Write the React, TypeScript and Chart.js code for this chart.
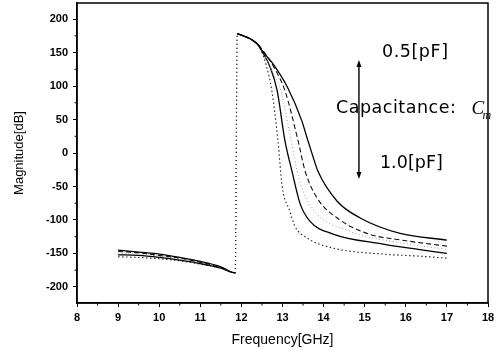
import React, { useEffect, useRef } from "react";
import { Chart, registerables } from "chart.js";

Chart.register(...registerables);

// Shared low-frequency branch and resonance peak
const leftFreq = [9, 9.5, 10, 10.5, 11, 11.5, 11.85];
const peakFreq = [11.9, 12.0, 12.2, 12.4];
const peakMag = [178, 176, 171, 162];

// Curve A (dotted, 1.0 pF)
const leftMagA = [-155, -156, -158, -161, -166, -172, -179];
const freqA = [12.5, 12.6, 12.74, 12.89, 12.99, 13.18, 13.3, 13.6, 14.23, 15.45, 16.3, 17];
const magA = [150, 132, 93, 18, -49, -87, -109, -127, -142, -151, -154, -157];

// Curve B (solid)
const leftMagB = [-152, -153, -156, -160, -165, -172, -179];
const freqB = [12.5, 12.7, 12.87, 13.06, 13.23, 13.43, 13.67, 14.23, 15.45, 16.3, 17];
const magB = [152, 128, 93, 18, -27, -76, -102, -121, -136, -144, -150];

// Curve C (faint dotted)
const leftMagC = [-150, -151, -154, -158, -164, -171, -179];
const freqC = [12.5, 12.75, 12.96, 13.2, 13.4, 13.72, 14.64, 15.86, 17];
const magC = [153, 122, 93, 22, -38, -82, -117, -134, -144];

// Curve D (dashed)
const leftMagD = [-147, -149, -153, -157, -163, -171, -179];
const freqD = [12.5, 12.8, 13.06, 13.38, 13.55, 13.84, 14.33, 15.05, 16, 17];
const magD = [155, 127, 93, 18, -27, -67, -97, -120, -131, -139];

// Curve E (solid, 0.5 pF)
const leftMagE = [-145, -148, -151, -156, -162, -170, -179];
const freqE = [12.5, 12.77, 13.13, 13.47, 13.6, 13.74, 13.86, 14.33, 14.89, 15.86, 17];
const magE = [153, 133, 97, 48, 22, -5, -27, -72, -97, -120, -130];

const xTicks = [8, 9, 10, 11, 12, 13, 14, 15, 16, 17, 18];
const yTicks = [-200, -150, -100, -50, 0, 50, 100, 150, 200];

const build = (leftMag: number[], f: number[], m: number[]) => [
  ...leftFreq.map((x, i) => ({ x, y: leftMag[i] })),
  ...peakFreq.map((x, i) => ({ x, y: peakMag[i] })),
  ...f.map((x, i) => ({ x, y: m[i] })),
];

const isJump = (ctx: any) => ctx.p0.parsed.y < 0 && ctx.p1.parsed.y > 100;

const mkSet = (data: any[], color: string, dash: number[], width: number) => ({
  data,
  borderColor: color,
  borderDash: dash,
  borderWidth: width,
  pointRadius: 0,
  fill: false,
  showLine: true,
  cubicInterpolationMode: "monotone" as const,
  segment: {
    borderColor: (ctx: any) => (isJump(ctx) ? "rgba(0,0,0,0.35)" : undefined),
    borderDash: (ctx: any) => (isJump(ctx) ? [1, 3] : undefined),
  },
});

function drawSpaced(ctx: CanvasRenderingContext2D, text: string, x: number, y: number, target: number) {
  const chars = text.split("");
  const widths = chars.map((c) => ctx.measureText(c).width);
  const total = widths.reduce((s, w) => s + w, 0);
  const extra = chars.length > 1 ? (target - total) / (chars.length - 1) : 0;
  let cx = x;
  chars.forEach((c, i) => {
    ctx.fillText(c, cx, y);
    cx += widths[i] + extra;
  });
}

const decorPlugin = {
  id: "decor",
  afterDraw(chart: any) {
    const { ctx, chartArea: a, scales } = chart;
    const xs = scales.x;
    const ys = scales.y;
    ctx.save();
    // frame
    ctx.strokeStyle = "#000";
    ctx.lineWidth = 1.5;
    ctx.strokeRect(a.left, a.top, a.right - a.left, a.bottom - a.top);
    // minor ticks
    ctx.lineWidth = 1;
    for (let v = 8.5; v < 18; v += 1) {
      const px = xs.getPixelForValue(v);
      ctx.beginPath();
      ctx.moveTo(px, a.bottom);
      ctx.lineTo(px, a.bottom + 2.5);
      ctx.stroke();
    }
    for (let v = -225; v <= 225; v += 50) {
      if (v < ys.min || v > ys.max) continue;
      const py = ys.getPixelForValue(v);
      ctx.beginPath();
      ctx.moveTo(a.left, py);
      ctx.lineTo(a.left - 2.5, py);
      ctx.stroke();
    }
    // arrow
    const ax = xs.getPixelForValue(14.86);
    const ay1 = ys.getPixelForValue(139);
    const ay2 = ys.getPixelForValue(-39);
    ctx.lineWidth = 1.4;
    ctx.beginPath();
    ctx.moveTo(ax, ay1 + 3);
    ctx.lineTo(ax, ay2 - 3);
    ctx.stroke();
    ctx.fillStyle = "#000";
    ctx.beginPath();
    ctx.moveTo(ax, ay1);
    ctx.lineTo(ax - 2.5, ay1 + 7);
    ctx.lineTo(ax + 2.5, ay1 + 7);
    ctx.closePath();
    ctx.fill();
    ctx.beginPath();
    ctx.moveTo(ax, ay2);
    ctx.lineTo(ax - 2.5, ay2 - 7);
    ctx.lineTo(ax + 2.5, ay2 - 7);
    ctx.closePath();
    ctx.fill();
    // texts
    ctx.textBaseline = "middle";
    ctx.textAlign = "left";
    ctx.font = "17.5px 'DejaVu Sans'";
    drawSpaced(ctx, "0.5[pF]", xs.getPixelForValue(15.42), ys.getPixelForValue(150), 66);
    drawSpaced(ctx, "1.0[pF]", xs.getPixelForValue(15.37), ys.getPixelForValue(-16), 63);
    drawSpaced(ctx, "Capacitance:", xs.getPixelForValue(14.3), ys.getPixelForValue(66), 120);
    ctx.font = "italic 19px 'Liberation Serif'";
    const cx = xs.getPixelForValue(17.6);
    const cy = ys.getPixelForValue(65);
    ctx.fillText("C", cx, cy);
    ctx.font = "italic 12px 'Liberation Serif'";
    ctx.fillText("m", cx + 11, cy + 6);
    ctx.restore();
  },
};

export default function App() {
  const ref = useRef<HTMLCanvasElement | null>(null);
  useEffect(() => {
    document.body.style.margin = "0";
    const canvas = ref.current!;
    const chart = new Chart(canvas, {
      type: "scatter",
      data: {
        datasets: [
          mkSet(build(leftMagE, freqE, magE), "#000", [], 1.3),
          mkSet(build(leftMagD, freqD, magD), "#111", [5, 3], 1.1),
          mkSet(build(leftMagC, freqC, magC), "#999", [1, 2.5], 1),
          mkSet(build(leftMagB, freqB, magB), "#000", [], 1.3),
          mkSet(build(leftMagA, freqA, magA), "#222", [1.5, 2.5], 1.1),
        ],
      },
      options: {
        responsive: false,
        animation: false,
        devicePixelRatio: 1,
        layout: { padding: { top: 3, right: 12, left: 0, bottom: 0 } },
        plugins: { legend: { display: false }, tooltip: { enabled: false } },
        scales: {
          x: {
            type: "linear",
            min: 8,
            max: 18,
            afterBuildTicks: (s: any) => {
              s.ticks = xTicks.map((v) => ({ value: v }));
            },
            afterFit: (s: any) => {
              s.height = 48;
              s.paddingLeft = 0;
              s.paddingRight = 0;
            },
            ticks: {
              color: "#000",
              font: { family: "'Liberation Sans'", size: 11, weight: "bold" },
              padding: 4,
              maxRotation: 0,
            },
            grid: { drawOnChartArea: false, drawTicks: true, tickLength: 4, color: "#000", lineWidth: 1 },
            border: { display: true, color: "#000", width: 1.5 },
            title: {
              display: true,
              text: "Frequency[GHz]",
              color: "#000",
              font: { family: "'Liberation Sans'", size: 14 },
              padding: { top: 0, bottom: 2 },
            },
          },
          y: {
            type: "linear",
            min: -224,
            max: 224,
            afterBuildTicks: (s: any) => {
              s.ticks = yTicks.map((v) => ({ value: v }));
            },
            afterFit: (s: any) => {
              s.width = 77;
              s.paddingTop = 0;
              s.paddingBottom = 0;
            },
            ticks: {
              color: "#000",
              font: { family: "'Liberation Sans'", size: 11, weight: "bold" },
              padding: 5,
            },
            grid: { drawOnChartArea: false, drawTicks: true, tickLength: 4, color: "#000", lineWidth: 1 },
            border: { display: true, color: "#000", width: 1.5 },
            title: {
              display: true,
              text: "Magnitude[dB]",
              color: "#000",
              font: { family: "'Liberation Sans'", size: 13 },
              padding: { top: 12, bottom: 0 },
            },
          },
        },
      },
      plugins: [decorPlugin],
    } as any);
    return () => chart.destroy();
  }, []);
  return (
    <div style={{ position: "relative", width: 500, height: 351 }}>
      <canvas ref={ref} width={500} height={351} />
    </div>
  );
}
